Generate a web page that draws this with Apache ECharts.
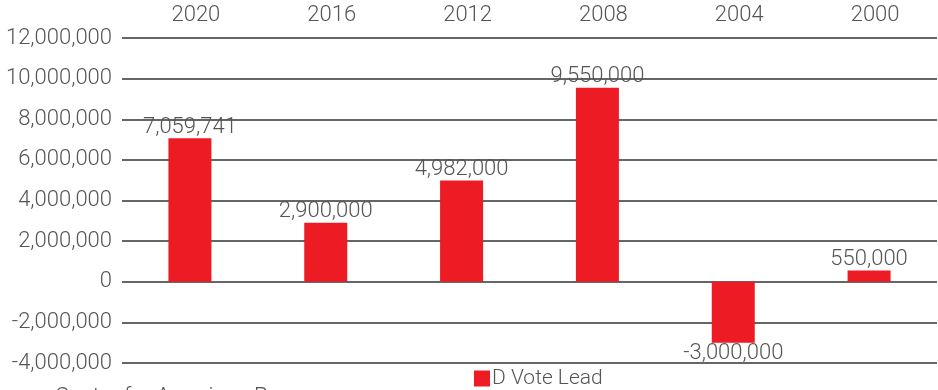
<!DOCTYPE html>
<html><head><meta charset="utf-8">
<script src="https://cdn.jsdelivr.net/npm/echarts@6/dist/echarts.min.js"></script>
<style>html,body{margin:0;padding:0;background:#fff}#c{width:938px;height:390px}</style>
</head><body><div id="c"></div>
<script>
const categories = ['2020', '2016', '2012', '2008', '2004', '2000'];
const voteLead = [7059741, 2900000, 4982000, 9550000, -3000000, 550000];
const seriesName = 'D Vote Lead';
const sourceText = 'Center for American Progress';

const fmt = v => Number(v).toLocaleString('en-US');
const FONT = 'Roboto';
const chart = echarts.init(document.getElementById('c'));
chart.setOption({
  animation: false,
  textStyle: { fontFamily: FONT, fontWeight: 300 },
  grid: { left: 122, right: 1, top: 38, bottom: 27, containLabel: false },
  legend: {
    data: [seriesName], top: 363, left: 469, itemWidth: 16, itemHeight: 16, itemGap: 4,
    textStyle: { fontFamily: FONT, fontWeight: 300, fontSize: 21, color: '#555', padding: [0, 0, 0, -3] },
    icon: 'rect'
  },
  xAxis: {
    type: 'category', data: categories, position: 'top',
    axisLine: { show: false }, axisTick: { show: false },
    axisLabel: { fontFamily: FONT, fontWeight: 300, fontSize: 22, color: '#555', margin: 12, padding: [0, 0, 0, 12] }
  },
  yAxis: {
    type: 'value', min: -4000000, max: 12000000, interval: 2000000,
    axisLine: { show: false }, axisTick: { show: false },
    axisLabel: { fontFamily: FONT, fontWeight: 300, fontSize: 22, color: '#555', margin: 10, formatter: v => fmt(v) },
    splitLine: { lineStyle: { color: '#333', width: 1.5 } }
  },
  series: [{
    name: seriesName, type: 'bar', barWidth: 43,
    itemStyle: { color: '#ED1C24' },
    data: voteLead.map(v => ({ value: v, label: { position: v < 0 ? 'bottom' : 'top' } })),
    label: { show: true, fontFamily: FONT, fontWeight: 300, fontSize: 22, color: '#555', distance: 0, formatter: p => fmt(p.value) }
  }],
  graphic: [{
    type: 'text', left: 55, top: 386,
    style: { text: sourceText, fontFamily: FONT, fontWeight: 300, fontSize: 22, fill: '#555' }
  }]
});
</script></body></html>
